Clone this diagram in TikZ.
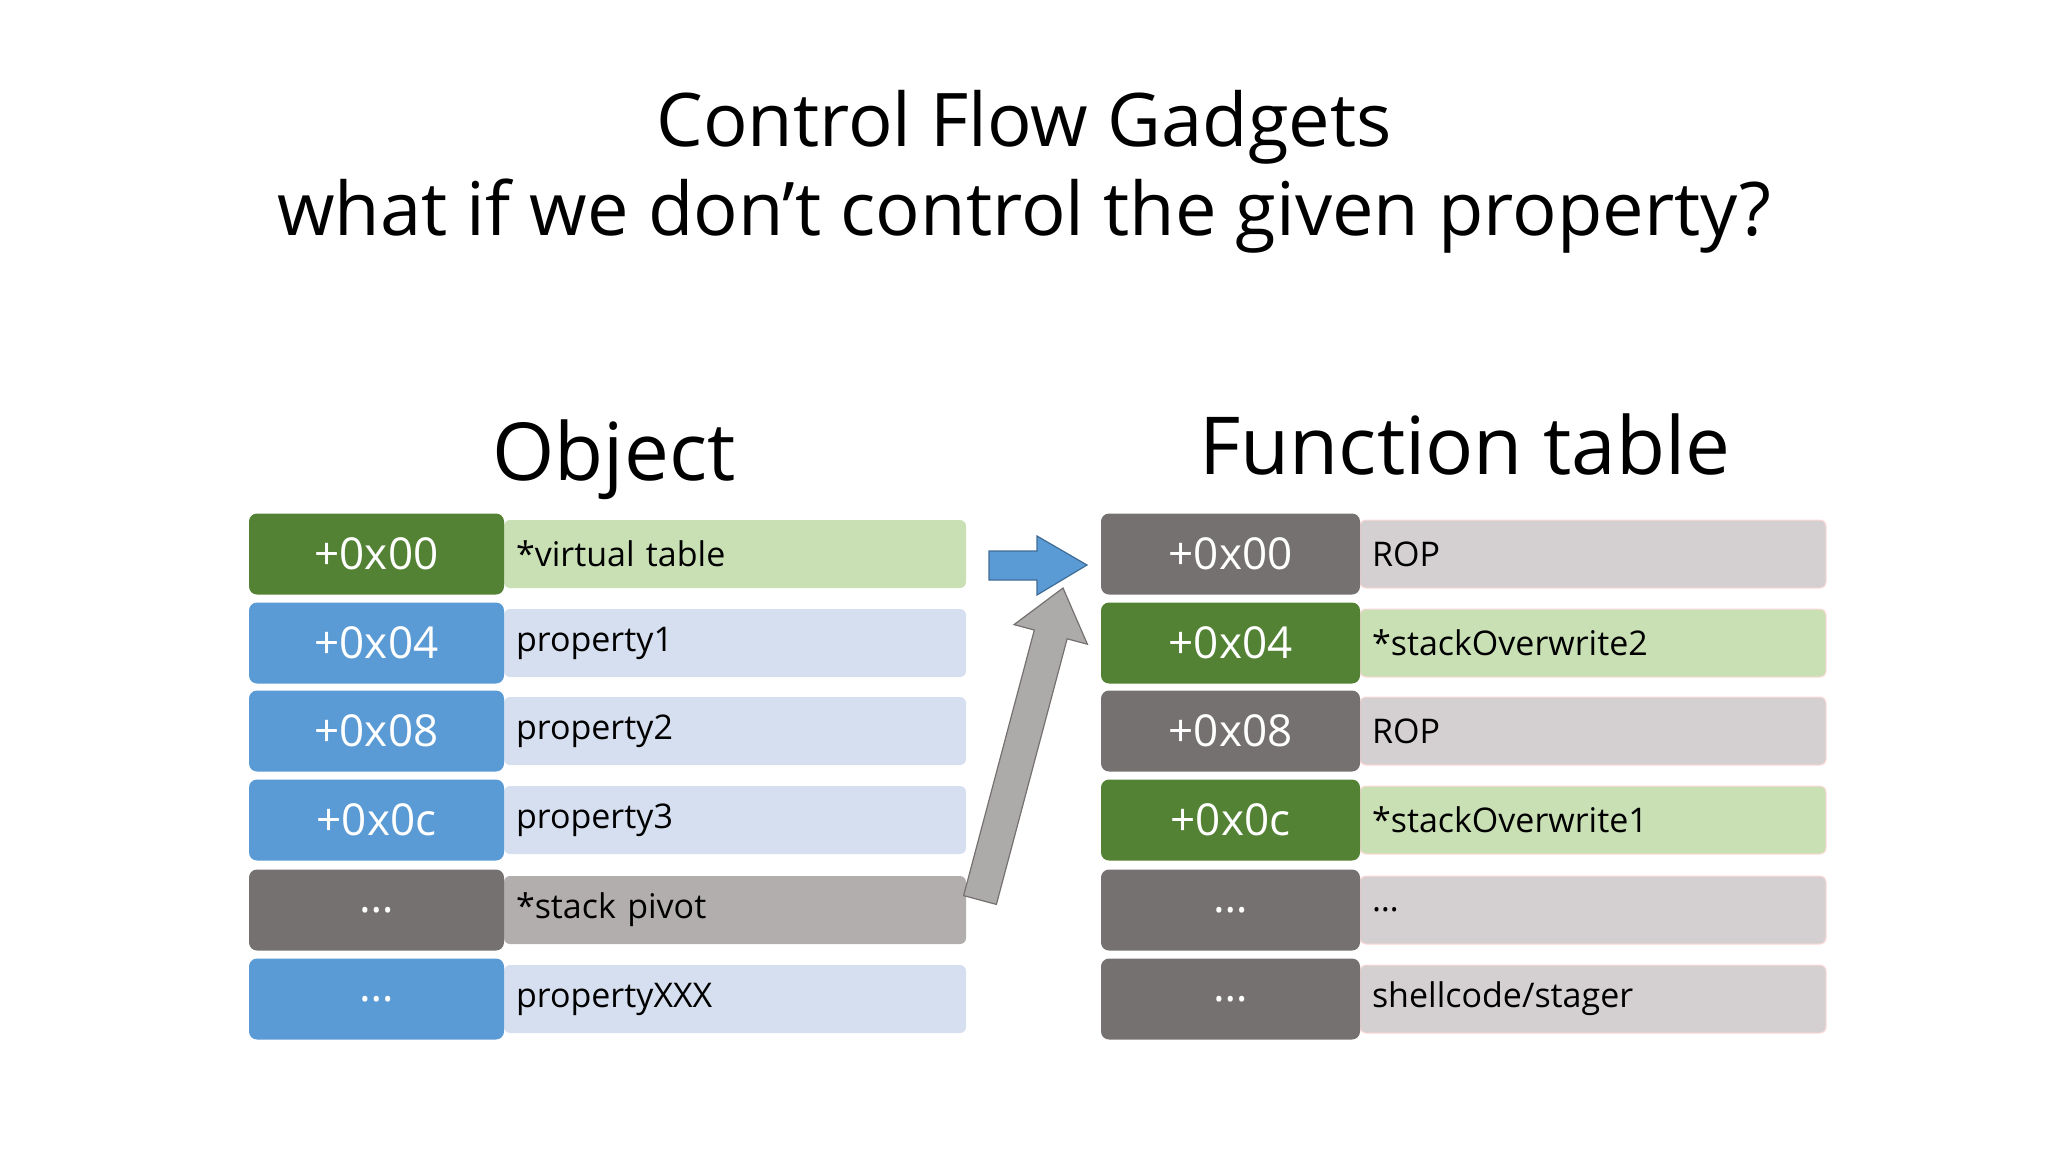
\documentclass[tikz,border=0pt]{standalone}
\usepackage{fontspec}
\setmainfont{Open Sans}
\definecolor{dgreen}{HTML}{548235}
\definecolor{lgreen}{HTML}{C9E0B5}
\definecolor{dblue}{HTML}{5B9BD5}
\definecolor{lblue}{HTML}{D6DFEF}
\definecolor{dgray}{HTML}{767171}
\definecolor{lgray}{HTML}{D4D0D1}
\definecolor{mgray}{HTML}{B2AEAE}
\definecolor{agray}{HTML}{ADAAAA}
\tikzset{
 keybox/.style={rounded corners=4pt,minimum height=40.5pt,text=white,font=\fontsize{22}{26}\selectfont,inner sep=0pt},
 lkey/.style={keybox,minimum width=127.5pt},
 rkey/.style={keybox,minimum width=129.5pt},
 valbox/.style={rounded corners=3pt,minimum height=34pt,text=black,font=\fontsize{17}{20}\selectfont,inner xsep=6pt,inner ysep=0pt,align=left},
 lval/.style={valbox,text width=219pt},
 rval/.style={valbox,text width=221pt,draw=red!15,line width=0.5pt},
}
\begin{document}
\begin{tikzpicture}[x=0.5pt,y=-0.5pt]
\useasboundingbox (0,0) rectangle (2048,1152);
\node (t1) at (1024,127) {\fontsize{37}{40}\selectfont Control Flow Gadgets};
\node (t2) at (1024,216) {\fontsize{37}{40}\selectfont what if we don’t control the given property?};
\node (ho) at (614,460) {\fontsize{40}{44}\selectfont Object};
\node (hf) at (1465,444) {\fontsize{40}{44}\selectfont Function table};
% left
\foreach \y/\kc/\vc/\k/\v [count=\i] in {554/dgreen/lgreen/+0x00/*virtual table,643/dblue/lblue/+0x04/property1,731/dblue/lblue/+0x08/property2,820/dblue/lblue/+0x0c/property3,910/dgray/mgray/\ldots/*stack pivot,999/dblue/lblue/\ldots/propertyXXX}{
 \node[lval,fill=\vc] (lv\i) at (735,\y) {\v};
 \node[lkey,fill=\kc] (lk\i) at (376.5,\y) {\k};
}
% right
\foreach \y/\kc/\vc/\k/\v [count=\i] in {554/dgray/lgray/+0x00/ROP,643/dgreen/lgreen/+0x04/*stackOverwrite2,731/dgray/lgray/+0x08/ROP,820/dgreen/lgreen/+0x0c/*stackOverwrite1,910/dgray/lgray/\ldots/\ldots,999/dgray/lgray/\ldots/{shellcode/stager}}{
 \node[rval,fill=\vc] (rv\i) at (1593,\y) {\v};
 \node[rkey,fill=\kc] (rk\i) at (1230.5,\y) {\k};
}
% blue arrow
\draw[fill=dblue,draw=dblue!70!black,line width=0.6pt] (989,551) -- (1037,551) -- (1037,536) -- (1087,565) -- (1037,595) -- (1037,580) -- (989,580) -- cycle;
% gray arrow
\draw[fill=agray,draw=dgray,line width=0.6pt] (996.4,904.4) -- (1067.1,638.8) -- (1087.4,644.2) -- (1063,588) -- (1014,624.6) -- (1034.3,630) -- (963.6,895.6) -- cycle;
\end{tikzpicture}
\end{document}
